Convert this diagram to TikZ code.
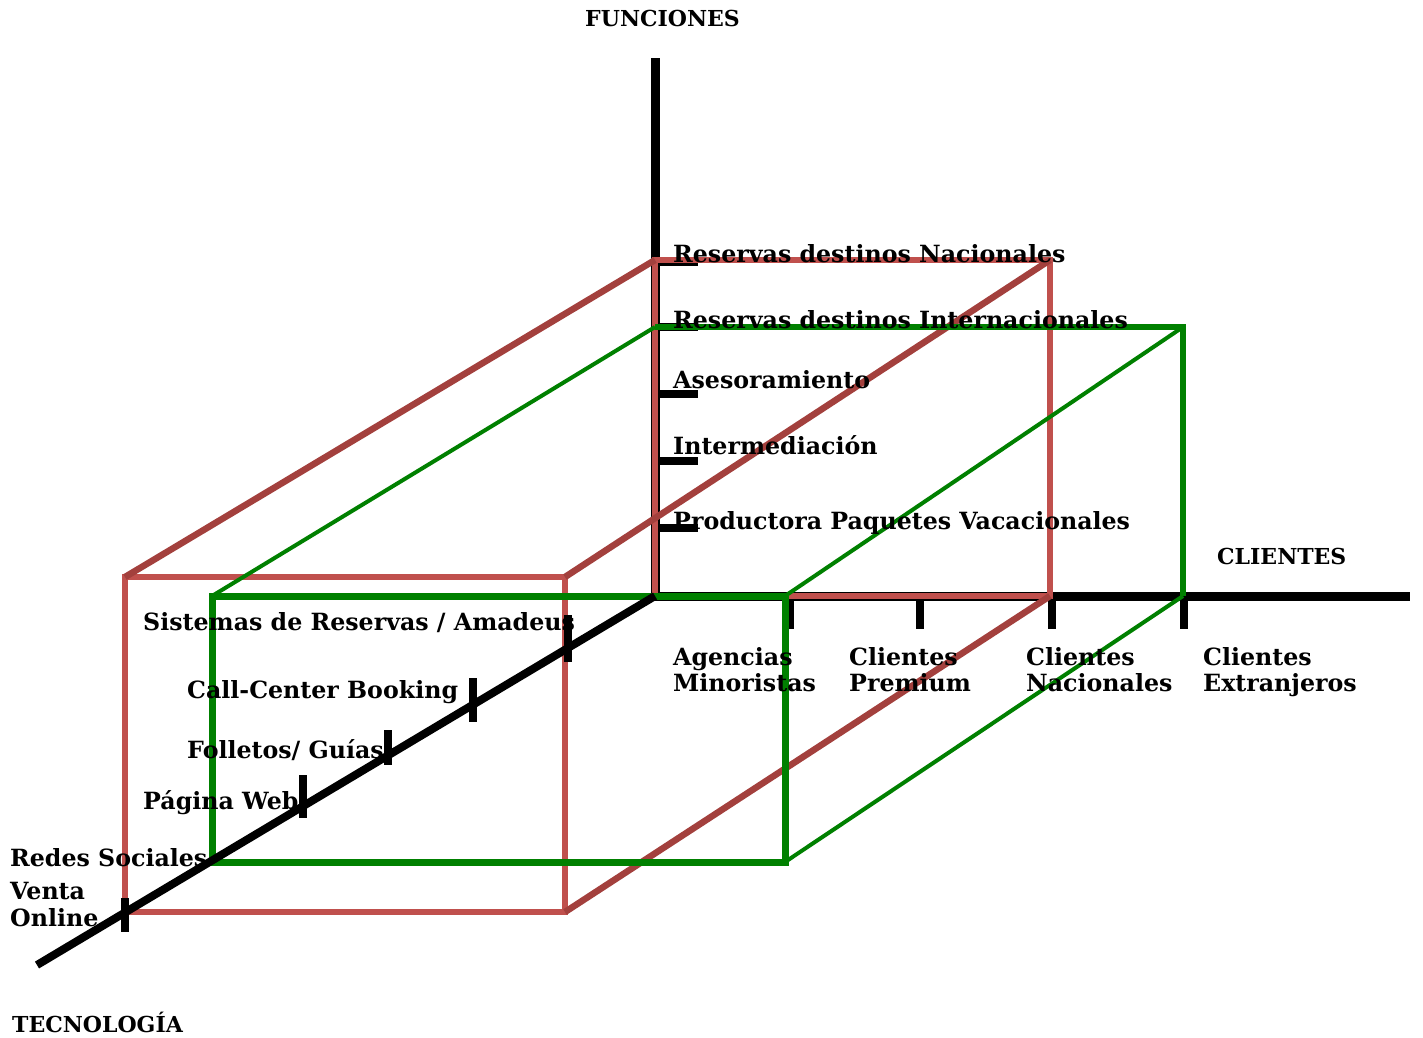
\documentclass[tikz,border=0pt]{standalone}
\usepackage{fontspec}
\setmainfont{DejaVu Serif}
\definecolor{redface}{HTML}{C0504D}
\definecolor{reddiag}{HTML}{A3403D}
\definecolor{grn}{HTML}{008000}
\newcommand{\lblfont}{\fontsize{23.7}{28}\selectfont\bfseries}
\newcommand{\capfont}{\fontsize{22}{26}\selectfont\bfseries}
\begin{document}
\begin{tikzpicture}[x=1pt,y=-1pt,
  axis/.style={line width=9pt,black},
  tickline/.style={line width=8pt,black},
  lbl/.style={font=\lblfont,anchor=base west,inner sep=0pt},
  titlelbl/.style={font=\capfont,anchor=base west,inner sep=0pt},
  rface/.style={line width=5.5pt,redface},
  rdiag/.style={line width=6.5pt,reddiag},
  gface/.style={line width=7pt,grn},
  gdiag/.style={line width=4pt,grn},
  line cap=butt, line join=miter]
\useasboundingbox (0,0) rectangle (1423,1037);
% coordinates
\coordinate (O) at (655,596);
\coordinate (Ftop) at (655,58);
\coordinate (Cend) at (1410,596);
\coordinate (Tend) at (37,965);
% red box
\coordinate (rA) at (125,577);
\coordinate (rB) at (565,577);
\coordinate (rC) at (565,912);
\coordinate (rD) at (125,912);
\coordinate (rE) at (655,260);
\coordinate (rF) at (1050,260);
\coordinate (rG) at (1050,596);
% green box
\coordinate (gA) at (212,596);
\coordinate (gB) at (785,596);
\coordinate (gC) at (785,862);
\coordinate (gD) at (212,862);
\coordinate (gE) at (655,327);
\coordinate (gF) at (1183,327);
\coordinate (gG) at (1183,596);
% axes
\draw[axis] (Ftop) -- (O);
\draw[axis] (O) -- (Cend);
% function ticks
\foreach \y/\n in {262/f1,327/f2,394/f3,461/f4,528/f5}{
  \coordinate (\n a) at (655,\y); \coordinate (\n b) at (698,\y);
  \draw[tickline] (\n a) -- (\n b);}
% client ticks
\foreach \x/\n in {790/c1,920/c2,1052/c3,1184/c4}{
  \coordinate (\n a) at (\x,596); \coordinate (\n b) at (\x,629);
  \draw[tickline] (\n a) -- (\n b);}
% red box
\draw[rface] (rE) -- (rF) -- (rG) -- (O) -- cycle;
\draw[rface] (rA) -- (rB) -- (rC) -- (rD) -- cycle;
\draw[rdiag] (rA) -- (rE);
\draw[rdiag] (rB) -- (rF);
\draw[rdiag] (rC) -- (rG);
% green box
\draw[line width=6pt,grn] (gE) -- (gF) -- (gG);
\draw[gface] (gA) -- (gB) -- (gC) -- (gD) -- cycle;
\draw[gdiag] (gA) -- (gE);
\draw[gdiag] (gB) -- (gF);
\draw[gdiag] (gC) -- (gG);
% technology axis
\draw[line width=8pt,black] (O) -- (Tend);
\foreach \x/\ya/\yb/\n in {568/615/662/t1,473/678/722/t2,388/730/765/t3,303/775/818/t4,125/898/932/t5}{
  \coordinate (\n a) at (\x,\ya); \coordinate (\n b) at (\x,\yb);
  \draw[tickline] (\n a) -- (\n b);}
% axis titles
\node[titlelbl] (funciones) at (585,26) {FUNCIONES};
\node[titlelbl] (clientes) at (1217,564) {CLIENTES};
\node[titlelbl] (tecnologia) at (12,1032) {TECNOLOGÍA};
% function labels
\node[lbl] (fn1) at (673,262) {Reservas destinos Nacionales};
\node[lbl] (fn2) at (673,328) {Reservas destinos Internacionales};
\node[lbl] (fn3) at (673,388) {Asesoramiento};
\node[lbl] (fn4) at (673,454) {Intermediación};
\node[lbl] (fn5) at (673,529) {Productora Paquetes Vacacionales};
% client labels
\node[lbl] (cl1a) at (673,665) {Agencias};
\node[lbl] (cl1b) at (673,691) {Minoristas};
\node[lbl] (cl2a) at (849,665) {Clientes};
\node[lbl] (cl2b) at (849,691) {Premium};
\node[lbl] (cl3a) at (1026,665) {Clientes};
\node[lbl] (cl3b) at (1026,691) {Nacionales};
\node[lbl] (cl4a) at (1203,665) {Clientes};
\node[lbl] (cl4b) at (1203,691) {Extranjeros};
% technology labels
\node[lbl] (te1) at (143,630) {Sistemas de Reservas / Amadeus};
\node[lbl] (te2) at (187,698) {Call-Center Booking};
\node[lbl] (te3) at (187,758) {Folletos/ Guías};
\node[lbl] (te4) at (143,809) {Página Web};
\node[lbl] (te5) at (10,866) {Redes Sociales};
\node[lbl] (te6a) at (10,899) {Venta};
\node[lbl] (te6b) at (10,926) {Online};
\end{tikzpicture}
\end{document}
